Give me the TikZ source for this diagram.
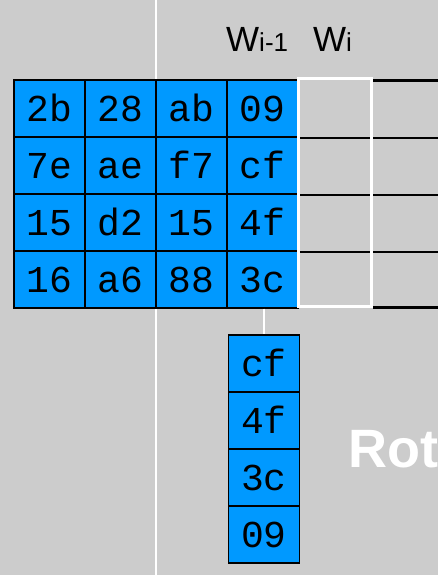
\documentclass[tikz,border=0pt]{standalone}
\usepackage{fontspec}
\setmainfont{Liberation Sans}
\newfontfamily\hexfont{Liberation Mono}
\definecolor{bg}{HTML}{CCCCCC}
\definecolor{cellblue}{HTML}{0099FF}
\begin{document}
\begin{tikzpicture}[x=1pt,y=-1pt,
  hexcell/.style={draw=black,line width=1.2pt,fill=cellblue,rectangle,inner sep=0pt,
    minimum width=71pt,minimum height=57pt,text height=26pt,text depth=0pt,
    font=\hexfont\fontsize{38}{38}\selectfont},
  wlabel/.style={anchor=base west,inner sep=0pt,font=\fontsize{35}{35}\selectfont},
  grid line/.style={draw=black,line width=1.2pt},
  thick grid line/.style={draw=black,line width=2.2pt}]
\fill[bg] (0,0) rectangle (438,575);
\useasboundingbox (0,0) rectangle (438,575);
% white vertical guide
\coordinate (vtop) at (156,0);
\coordinate (vbot) at (156,575);
\draw[white,line width=1.5pt] (vtop) -- (vbot);
% main grid
\foreach \r/\a/\b/\c/\d [count=\i] in {0/2b/28/ab/09,1/7e/ae/f7/cf,2/15/d2/15/4f,3/16/a6/88/3c}{
  \node[hexcell] (c\i1) at (49.5,108.5+57*\r) {\a};
  \node[hexcell] (c\i2) at (120.5,108.5+57*\r) {\b};
  \node[hexcell] (c\i3) at (191.5,108.5+57*\r) {\c};
  \node[hexcell] (c\i4) at (262.5,108.5+57*\r) {\d};
}
% W_i column (empty, white outline)
\node[draw=white,line width=3pt,rectangle,inner sep=0pt,minimum width=73pt,minimum height=228pt] (wi) at (335,192.5) {};
\foreach \y in {138,195,252}{
  \coordinate (l\y) at (300,\y);
  \coordinate (r\y) at (370,\y);
  \draw[grid line] (l\y) -- (r\y);
  \coordinate (ol\y) at (373,\y);
  \coordinate (or\y) at (438,\y);
  \draw[grid line] (ol\y) -- (or\y);
}
\coordinate (tl) at (373,80.5);
\coordinate (tr) at (438,80.5);
\draw[thick grid line] (tl) -- (tr);
\coordinate (bl) at (373,307.5);
\coordinate (br) at (438,307.5);
\draw[thick grid line] (bl) -- (br);
% labels
\node[wlabel] (wim1) at (226,52) {W{\fontsize{26}{26}\selectfont i-1}};
\node[wlabel] (wil) at (313,52) {W{\fontsize{26}{26}\selectfont i}};
% rotated column
\foreach \t [count=\i] in {cf,4f,3c,09}{
  \node[hexcell] (s\i) at (264,306.5+57*\i) {\t};
}
\draw[white,line width=1.2pt] (c44.south -| s1.north) -- (s1.north);
% Rot label
\node[anchor=base west,inner sep=0pt,text=white,font=\bfseries\fontsize{54}{54}\selectfont] (rot) at (348,467) {Rot};
\end{tikzpicture}
\end{document}
